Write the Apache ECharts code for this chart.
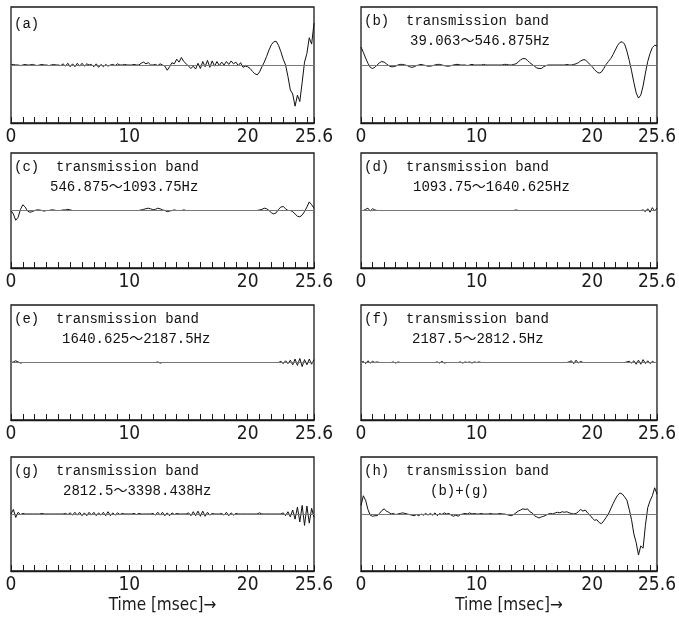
<!DOCTYPE html>
<html>
<head>
<meta charset="utf-8">
<script src="https://cdn.jsdelivr.net/npm/echarts@6/dist/echarts.min.js"></script>
<style>
  html, body { margin: 0; padding: 0; background: #fff; }
  #chart { width: 679px; height: 617px; }
</style>
</head>
<body>
<div id="chart"></div>
<script>
// samples every 0.2 ms, 0 .. 25.6 ms (129 values per panel), amplitude in arbitrary units
const sampleStep = 0.2;
const tickLabels = [0, 10, 20, 25.6];
const panelNames = ['(a)', '(b)  transmission band', '(c)  transmission band', '(d)  transmission band',
  '(e)  transmission band', '(f)  transmission band', '(g)  transmission band', '(h)  transmission band'];
const bandNames = ['', '39.063～546.875Hz', '546.875～1093.75Hz', '1093.75～1640.625Hz',
  '1640.625～2187.5Hz', '2187.5～2812.5Hz', '2812.5～3398.438Hz', '(b)+(g)'];

const waveA = [
  0, 0.1, 0, 0, -0.1, 0, 0.1, 0, 0, 0.1,
  0, -0.1, 0, 0.1, 0, 0, -0.1, 0, 0.1, 0,
  0, -0.1, 0.2, -0.2, 0.3, -0.3, 0.2, -0.3, 0.3, -0.2,
  0.3, -0.2, 0.2, 0, 0.1, -0.3, 0.2, -0.4, 0.1, -0.3,
  0.1, -0.2, 0, 0.1, -0.1, 0.2, 0, 0, 0.1, 0,
  0, 0, 0.1, 0, 0, 0.3, 0.5, 0.2, 0.4, 0,
  0, 0.1, -0.1, 0.2, 0, -0.2, -0.9, -0.3, 0.4, 0.2,
  1.0, 0.5, 1.3, 0.6, 0.2, -0.2, -0.6, -0.2, -0.7, 0.3,
  -0.6, 0.6, -0.3, 0.8, -0.4, 0.7, -0.2, 0.6, -0.1, 0.5,
  0, 0.6, 0.1, 0.7, 0.2, 0.5, -0.1, 0.4, -0.4, -0.2,
  -0.3, -0.6, -1.1, -1.5, -1.7, -1.2, -0.3, 0.5, 1.5, 2.6,
  3.5, 4.0, 4.1, 3.4, 2.3, 1.0, 0, -2.0, -4.3, -5.0,
  -7.1, -5.2, -6.3, -3.0, 0.5, 2.0, 4.7, 3.6, 7.2
];
const waveB = [
  3.1, 2.2, 1.2, 0.3, -0.4, -0.6, -0.4, 0, 0.4, 0.6,
  0.5, 0.2, -0.1, -0.3, -0.3, -0.2, 0, 0.1, 0.1, 0,
  -0.1, -0.3, -0.4, -0.3, -0.1, 0, 0.1, 0, -0.1, -0.2,
  -0.2, -0.1, 0, 0.1, 0.1, 0, -0.1, -0.2, -0.2, -0.1,
  0, 0.1, 0.1, 0, 0, 0, -0.1, 0, 0.1, 0,
  0, 0, 0, 0.1, 0, 0, 0, 0, 0, 0,
  0, 0, 0.1, 0.1, 0, 0, 0.1, 0.2, 0.5, 0.9,
  1.1, 1.1, 0.8, 0.4, 0.1, -0.2, -0.5, -0.6, -0.6, -0.3,
  -0.1, 0, 0, 0, 0, 0, 0, 0, 0, 0.1,
  0, 0, 0.1, 0.2, 0.4, 0.7, 0.9, 0.9, 0.5, 0.1,
  -0.3, -0.8, -1.2, -1.4, -1.2, -0.6, 0.1, 0.6, 1.1, 1.8,
  2.6, 3.4, 3.9, 4.0, 3.6, 2.4, 0.8, -1.0, -3.0, -4.8,
  -5.7, -5.2, -3.6, -1.4, 0.6, 2.0, 3.0, 3.4, 3.3
];
const waveC = [
  0, -0.6, -1.7, -1.2, 0.2, 1.0, 0.6, -0.1, -0.3, -0.2,
  0, 0.1, 0.1, 0, -0.1, 0, 0, 0.1, 0.1, 0,
  0, 0, 0.1, 0.1, 0.2, 0.1, 0, 0, 0, 0,
  0, 0, 0, 0, 0, 0, 0, 0, 0, 0,
  0, 0, 0, 0, 0, 0, 0, 0, 0, 0,
  0, 0, 0, 0, 0, 0.1, 0.2, 0.3, 0.4, 0.3,
  0.1, 0.2, 0.4, 0.3, 0.1, 0, -0.2, -0.1, 0, 0.1,
  0, 0, 0, 0.1, 0, 0, 0, 0, 0, 0,
  0, 0, 0, 0, 0, 0, 0, 0, 0, 0,
  0, 0, 0, 0, 0, 0, 0, 0, 0, 0,
  0, 0, 0, 0, 0, 0.1, 0.2, 0.4, 0.3, 0,
  -0.4, -0.6, -0.4, 0.2, 0.6, 0.7, 0.3, 0, 0, -0.2,
  -0.6, -1.0, -1.1, -0.8, -0.2, 0.6, 1.5, 1.0, 0.4
];
const waveD = [
  0, 0, 0.2, 0.4, -0.1, 0.3, 0.1, 0, 0, 0,
  0, 0, 0, 0, 0, 0, 0, 0, 0, 0,
  0, 0, 0, 0, 0, 0, 0, 0, 0, 0,
  0, 0, 0, 0, 0, 0, 0, 0, 0, 0,
  0, 0, 0, 0, 0, 0, 0, 0, 0, 0,
  0, 0, 0, 0, 0, 0, 0, 0, 0, 0,
  0, 0, 0, 0, 0, 0, 0, 0.1, 0, 0,
  0, 0, 0, 0, 0, 0, 0, 0, 0, 0,
  0, 0, 0, 0, 0, 0, 0, 0, 0, 0,
  0, 0, 0, 0, 0, 0, 0, 0, 0, 0,
  0, 0, 0, 0, 0, 0, 0, 0, 0, 0,
  0, 0, 0, 0, 0, 0, 0, 0, 0, 0,
  0, 0, 0.1, -0.2, 0.3, -0.3, 0.5, -0.1, 0.4
];
const waveE = [
  0, 0.1, 0.3, 0.1, -0.1, 0, 0, 0, 0, 0,
  0, 0, 0, 0, 0, 0, 0, 0, 0, 0,
  0, 0, 0, 0, 0, 0, 0, 0, 0, 0,
  0, 0, 0, 0, 0, 0, 0, 0, 0, 0,
  0, 0, 0, 0, 0, 0, 0, 0, 0, 0,
  0, 0, 0, 0, 0, 0, 0, 0, 0, 0,
  0, 0, 0.1, -0.1, 0, 0, 0, 0, 0, 0,
  0, 0, 0, 0, 0, 0, 0, 0, 0, 0,
  0, 0, 0, 0, 0, 0, 0, 0, 0, 0,
  0, 0, 0, 0, 0, 0, 0, 0, 0, 0,
  0, 0, 0, 0, 0, 0, 0, 0, 0, 0,
  0, 0, 0, 0, 0.2, -0.2, 0.3, -0.2, 0.4, -0.4,
  0.6, -0.5, 0.7, -0.7, 0.5, -0.4, 0.6, -0.3, 0.5
];
const waveF = [
  0, 0.2, -0.2, 0.3, -0.1, 0.2, 0, 0.1, 0, 0,
  0, 0, 0, 0, 0.1, -0.1, 0.1, 0, 0, 0,
  0, 0, 0, 0, 0, 0, 0, 0, 0, 0,
  0, 0, 0, 0.1, -0.1, 0.2, -0.1, 0, 0, 0,
  0, 0, 0, 0.1, -0.1, 0.1, 0, 0.1, -0.1, 0.1,
  0, 0.1, 0, 0, 0, 0, 0, 0, 0, 0,
  0, 0, 0, 0, 0, 0, 0, 0, 0, 0,
  0, 0, 0, 0, 0, 0, 0, 0, 0, 0,
  0, 0, 0, 0, 0, 0, 0, 0, 0, 0,
  0.1, 0.3, -0.2, 0.4, -0.1, 0.2, 0, 0, 0, 0,
  0, 0, 0, 0, 0, 0, 0, 0, 0, 0,
  0, 0, 0, 0, 0, 0.1, 0.2, -0.1, 0.3, -0.3,
  0.4, -0.3, 0.5, -0.2, 0.3, -0.2, 0.2, 0, 0
];
const waveG = [
  0, 0.8, -0.6, 0.3, -0.1, 0.1, 0, 0, 0, 0,
  0, 0, 0, 0.1, 0, 0, 0, 0, 0, 0,
  0, 0, 0, 0.1, -0.1, 0.2, -0.2, 0.3, -0.2, 0.3,
  -0.3, 0.2, -0.3, 0.3, -0.2, 0.3, -0.3, 0.2, -0.2, 0.3,
  -0.3, 0.4, -0.3, 0.2, -0.2, 0.2, -0.1, 0.1, 0, 0,
  0, 0, 0.1, -0.1, 0.1, 0, 0, 0, 0, 0,
  0.1, -0.2, 0.3, -0.2, 0.3, -0.3, 0.2, -0.3, 0.2, -0.1,
  0.1, 0, 0, 0, 0, 0.2, -0.3, 0.4, -0.3, 0.5,
  -0.4, 0.5, -0.4, 0.3, -0.2, 0.1, 0, 0, 0, 0.1,
  -0.2, 0.3, -0.3, 0.2, -0.2, 0.1, 0, 0, 0, 0,
  0, 0, 0, 0, 0, 0.2, 0, 0, 0, 0,
  0, 0, 0, 0, 0, 0.2, -0.3, 0.4, -0.5, 0.7,
  -0.9, 1.2, -1.4, 1.5, -2.0, 1.4, -1.6, 1.0, -0.6
];
const waveH = [
  1.5, 3.2, 2.4, 0.8, -0.2, -0.4, -0.3, -0.3, 0.1, 0.6,
  0.9, 0.5, 0.3, 0, 0.1, -0.1, 0, 0.1, 0.2, 0.1,
  0, -0.1, -0.2, -0.3, -0.1, -0.3, 0, -0.2, 0.1, -0.2,
  0.1, -0.2, 0.2, -0.3, 0.1, -0.1, 0.2, 0, 0.1, -0.2,
  -0.4, -0.2, -0.4, -0.1, 0, 0.1, 0, 0.2, 0, 0.1,
  0, 0, 0.1, 0, 0, 0, 0.1, 0, 0, 0,
  0.1, 0, 0, -0.1, -0.2, -0.3, -0.1, 0.2, 0.5, 0.7,
  0.9, 0.8, 0.9, 0.4, 0.2, -0.3, -0.5, -0.7, -0.5, -0.4,
  -0.2, 0, 0.1, 0, 0.2, 0.3, 0.2, 0.4, 0.3, 0.4,
  0.2, 0.1, 0, 0.1, 0.4, 0.8, 0.5, 0.7, 0.2, -0.2,
  -0.7, -1.1, -1.0, -1.5, -1.7, -1.2, -0.6, 0, 0.9, 1.8,
  2.6, 3.3, 3.7, 3.5, 3.0, 2.4, 0.8, -1.0, -3.5, -5.0,
  -7.2, -5.6, -6.0, -2.0, 1.1, 2.3, 3.2, 4.6, 3.5
];
const waves = [waveA, waveB, waveC, waveD, waveE, waveF, waveG, waveH];

const chart = echarts.init(document.getElementById('chart'));

const colLeft = [11, 361];
const rowTop = [7, 153, 305, 457];
const rowHeight = [116, 115, 115, 114];
const line2Left = [0, 410, 50, 413, 62, 412, 63, 430];
const numFont = "'Liberation Sans Narrow', 'DejaVu Sans Condensed', 'Liberation Sans', sans-serif";
const monoFont = "'Liberation Mono', 'DejaVu Sans Mono', 'Noto Sans CJK JP', monospace";

const grids = [], xAxes = [], yAxes = [], series = [], texts = [];
waves.forEach((wave, i) => {
  const col = i % 2, row = Math.floor(i / 2);
  grids.push({
    left: colLeft[col], top: rowTop[row], width: 303, height: rowHeight[row],
    show: true, borderColor: '#1a1a1a', borderWidth: 1.3, backgroundColor: 'transparent'
  });
  xAxes.push({
    type: 'value', gridIndex: i, min: 0, max: 25.6, interval: 1,
    axisLine: { show: true, onZero: false, lineStyle: { color: '#1a1a1a', width: 1.3 } },
    axisTick: { show: true, inside: true, length: 6, lineStyle: { color: '#1a1a1a', width: 1 } },
    splitLine: { show: false },
    axisLabel: {
      show: true, margin: 5, color: '#1a1a1a', fontFamily: numFont, fontSize: 19,
      showMinLabel: true, showMaxLabel: true,
      formatter: v => {
        const hit = tickLabels.find(t => Math.abs(t - v) < 1e-6);
        return hit === undefined ? '' : String(hit);
      }
    },
    name: row === 3 ? 'Time [msec]→' : '',
    nameLocation: 'middle', nameGap: 26,
    nameTextStyle: { color: '#1a1a1a', fontFamily: numFont, fontSize: 17 }
  });
  yAxes.push({ type: 'value', gridIndex: i, min: -10, max: 10, show: false });
  series.push({
    type: 'line', xAxisIndex: i, yAxisIndex: i,
    data: wave.map((v, k) => [+(k * sampleStep).toFixed(1), v]),
    showSymbol: false, silent: true, animation: false,
    lineStyle: { color: '#111', width: 1 },
    markLine: {
      silent: true, symbol: 'none', animation: false, label: { show: false },
      lineStyle: { color: '#777', width: 1, type: 'solid' },
      data: [{ yAxis: 0 }]
    }
  });
  texts.push({
    type: 'text', left: colLeft[col] + 3, top: rowTop[row] + (i === 0 ? 10 : 7),
    style: { text: panelNames[i], font: '14px ' + monoFont, fill: '#111' }
  });
  if (bandNames[i]) {
    texts.push({
      type: 'text', left: line2Left[i], top: rowTop[row] + 27,
      style: { text: bandNames[i], font: '14px ' + monoFont, fill: '#111' }
    });
  }
});

chart.setOption({
  backgroundColor: '#fff',
  animation: false,
  grid: grids,
  xAxis: xAxes,
  yAxis: yAxes,
  series: series,
  graphic: texts
});
</script>
</body>
</html>
